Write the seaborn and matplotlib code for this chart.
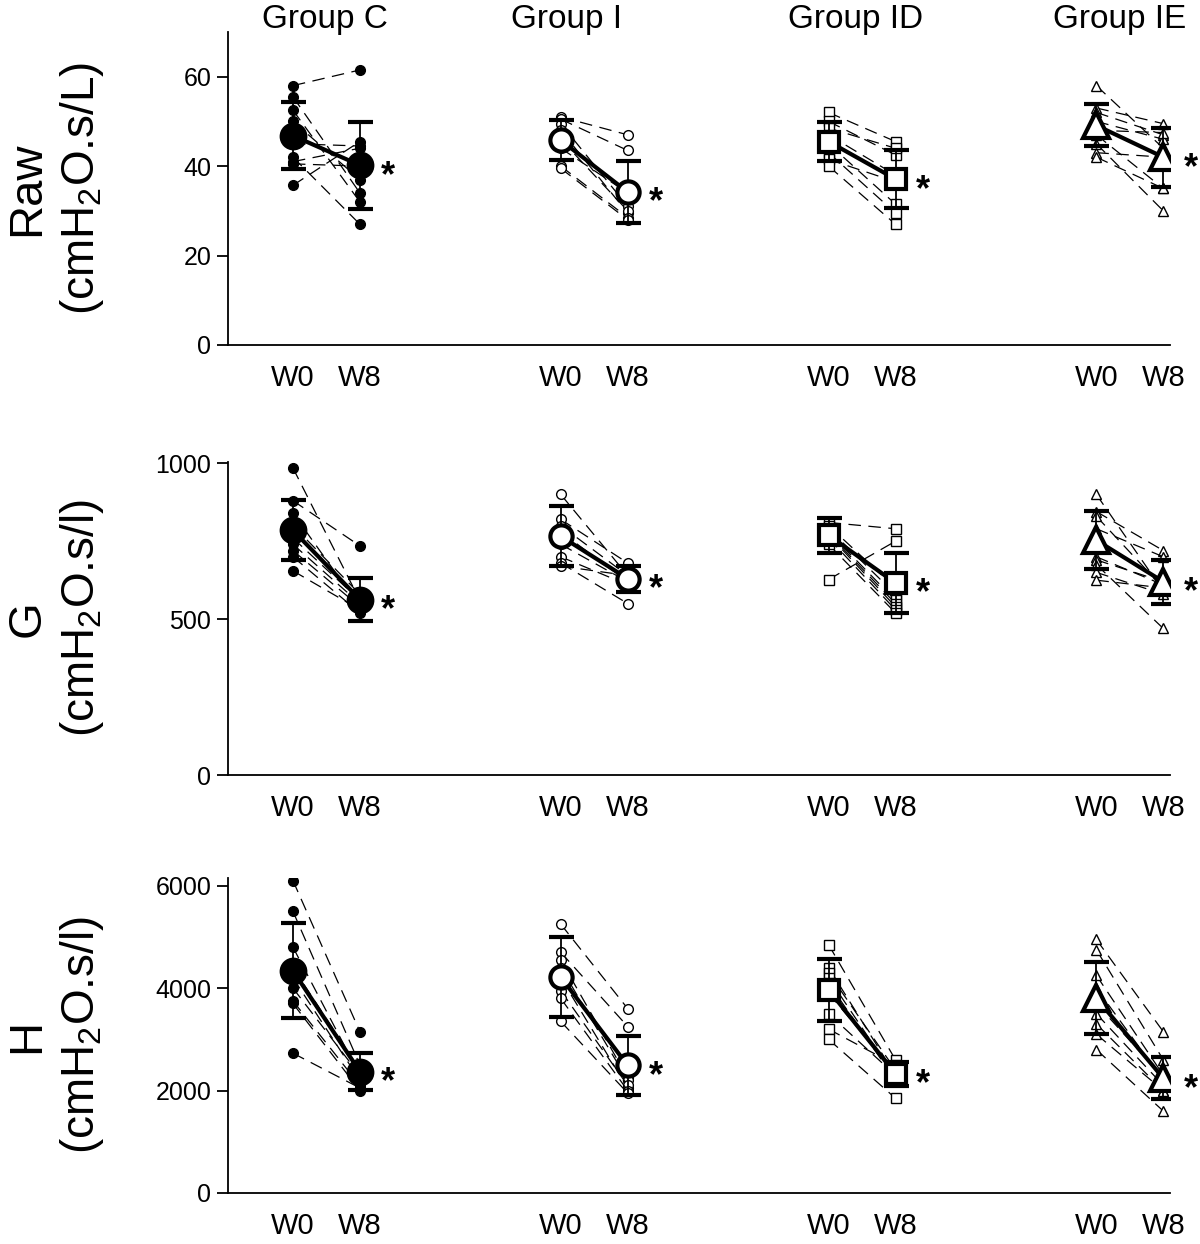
import numpy as np
import pandas as pd
import seaborn as sns
import matplotlib
matplotlib.use("Agg")
import matplotlib.pyplot as plt

groups = ["Group C", "Group I", "Group ID", "Group IE"]
times = ["W0", "W8"]

# Raw (cmH2O.s/L) - individual subjects
raw_w0 = [[58, 55.5, 52.5, 50, 45, 42, 41, 40.5, 35.7],
          [51, 50.5, 49.5, 48, 46, 44, 40, 39.5],
          [52, 50, 48.5, 47, 45, 43, 41.5, 40],
          [58, 53, 52, 50, 48, 47, 45, 43, 42]]
raw_w8 = [[61.5, 34, 32, 37, 44.5, 27, 44, 40, 45.5],
          [47, 43.5, 31, 29.5, 30, 34, 28.5, 28],
          [45.5, 42.5, 44, 38, 31.5, 29.5, 36.5, 27],
          [44, 49.5, 47, 46, 47.5, 35, 30, 42, 35]]
raw_mean = [[46.8, 40.2], [45.8, 34.2], [45.5, 37.1], [49.1, 42.0]]
raw_sd = [[7.5, 9.7], [4.5, 6.9], [4.4, 6.4], [4.7, 6.6]]

# G (cmH2O.s/l)
g_w0 = [[985, 880, 840, 800, 760, 740, 720, 700, 655],
        [900, 820, 800, 780, 740, 700, 680, 670],
        [810, 800, 790, 780, 775, 770, 760, 740, 627],
        [900, 845, 830, 790, 700, 690, 675, 650, 625]]
g_w8 = [[560, 735, 540, 580, 560, 550, 540, 520, 530],
        [640, 680, 640, 620, 620, 610, 550, 640],
        [790, 600, 580, 560, 550, 540, 530, 520, 750],
        [590, 720, 600, 700, 610, 620, 470, 580, 600]]
g_mean = [[785, 563], [766, 630], [769, 616], [753, 620]]
g_sd = [[96, 70], [96, 42], [56, 96], [93, 70]]

# H (cmH2O.s/l)
h_w0 = [[6100, 5500, 4800, 4400, 4200, 4000, 3750, 3700, 2730],
        [5250, 4700, 4550, 4400, 4200, 3950, 3800, 3350],
        [4850, 4400, 4300, 4200, 4100, 3900, 3500, 3200, 3000],
        [4950, 4750, 4250, 4000, 3700, 3500, 3300, 3100, 2800]]
h_w8 = [[3150, 2500, 2300, 2400, 2200, 2300, 2100, 2000, 2050],
        [3600, 3250, 2250, 2200, 2050, 2100, 2000, 1950],
        [2600, 2300, 2400, 2250, 2200, 2350, 2300, 2500, 1850],
        [3150, 2600, 2300, 2200, 2250, 2100, 2000, 2000, 1600]]
h_mean = [[4340, 2370], [4215, 2490], [3967, 2326], [3805, 2241]]
h_sd = [[930, 360], [775, 575], [610, 230], [710, 410]]

rows = [
    ("Raw", "(cmH$_2$O.s/L)", raw_w0, raw_w8, raw_mean, raw_sd, [0, 20, 40, 60], 70),
    ("G", "(cmH$_2$O.s/l)", g_w0, g_w8, g_mean, g_sd, [0, 500, 1000], 1004),
    ("H", "(cmH$_2$O.s/l)", h_w0, h_w8, h_mean, h_sd, [0, 2000, 4000, 6000], 6150),
]

markers = ["o", "o", "s", "^"]
faces = ["black", "white", "white", "white"]
small_size = [7, 7, 6.5, 7.5]
mean_size = [17, 16, 15, 19]
title_x = [0.48, 4.08, 8.4, 12.35]

sns.set_theme(style="ticks")
plt.rcParams["font.family"] = ["Liberation Sans", "DejaVu Sans"]
plt.rcParams["mathtext.fontset"] = "custom"
plt.rcParams["mathtext.rm"] = "Liberation Sans"
plt.rcParams["mathtext.it"] = "Liberation Sans:italic"
for k in ["text.color", "axes.labelcolor", "xtick.color", "ytick.color", "axes.edgecolor"]:
    plt.rcParams[k] = "black"

fig = plt.figure(figsize=(12, 12.44), dpi=100)
axes_pos = [[0.19, 0.7227, 0.785, 0.2516],
            [0.19, 0.377, 0.785, 0.2516],
            [0.19, 0.041, 0.785, 0.2532]]

for r, (name, unit, w0, w8, means, sds, yt, ytop) in enumerate(rows):
    ax = fig.add_axes(axes_pos[r])
    for g in range(4):
        x0 = 4 * g
        recs = []
        for i, (a, b) in enumerate(zip(w0[g], w8[g])):
            recs.append({"subject": i, "x": x0, "value": a})
            recs.append({"subject": i, "x": x0 + 1, "value": b})
        df = pd.DataFrame(recs)
        sns.lineplot(data=df, x="x", y="value", units="subject", estimator=None,
                     color="black", linewidth=0.9, linestyle=(0, (10, 6)),
                     marker=markers[g], markersize=small_size[g],
                     markerfacecolor=faces[g], markeredgecolor="black",
                     markeredgewidth=1.0, ax=ax, legend=False, zorder=2)
        ax.errorbar([x0, x0 + 1], means[g], yerr=sds[g], color="black",
                    linewidth=3, elinewidth=1.3, capsize=9, capthick=1.3,
                    marker=markers[g], markersize=mean_size[g],
                    markerfacecolor=faces[g], markeredgecolor="black",
                    markeredgewidth=3, zorder=5)
        ax.annotate("*", (x0 + 1, means[g][1]), xytext=(20, -8),
                    textcoords="offset points", ha="center", va="center",
                    fontsize=26, fontweight="bold", zorder=6)
        if r == 0:
            ax.text(title_x[g], 0.99, groups[g], transform=ax.get_xaxis_transform(),
                    ha="center", va="bottom", fontsize=24)
    ax.set_xlim(-0.97, 13.1)
    ax.set_ylim(0, ytop)
    ax.set_yticks(yt)
    ax.set_yticklabels([str(v) for v in yt], fontsize=18)
    xt = [4 * g + k for g in range(4) for k in range(2)]
    ax.set_xticks(xt)
    ax.set_xticklabels(times * 4, fontsize=21)
    ax.tick_params(axis="x", length=0, pad=14)
    ax.tick_params(axis="y", length=8, width=1.3, direction="out", pad=4)
    ax.set_xlabel("")
    ax.set_ylabel("")
    for s in ["left", "bottom"]:
        ax.spines[s].set_linewidth(1.3)
        ax.spines[s].set_color("black")
    sns.despine(ax=ax)
    ax.text(-0.213, 0.5, name, transform=ax.transAxes, rotation=90,
            ha="center", va="center", fontsize=34)
    ax.text(-0.155, 0.5, unit, transform=ax.transAxes, rotation=90,
            ha="center", va="center", fontsize=33)

fig.savefig("out.png", dpi=100, facecolor="white")
